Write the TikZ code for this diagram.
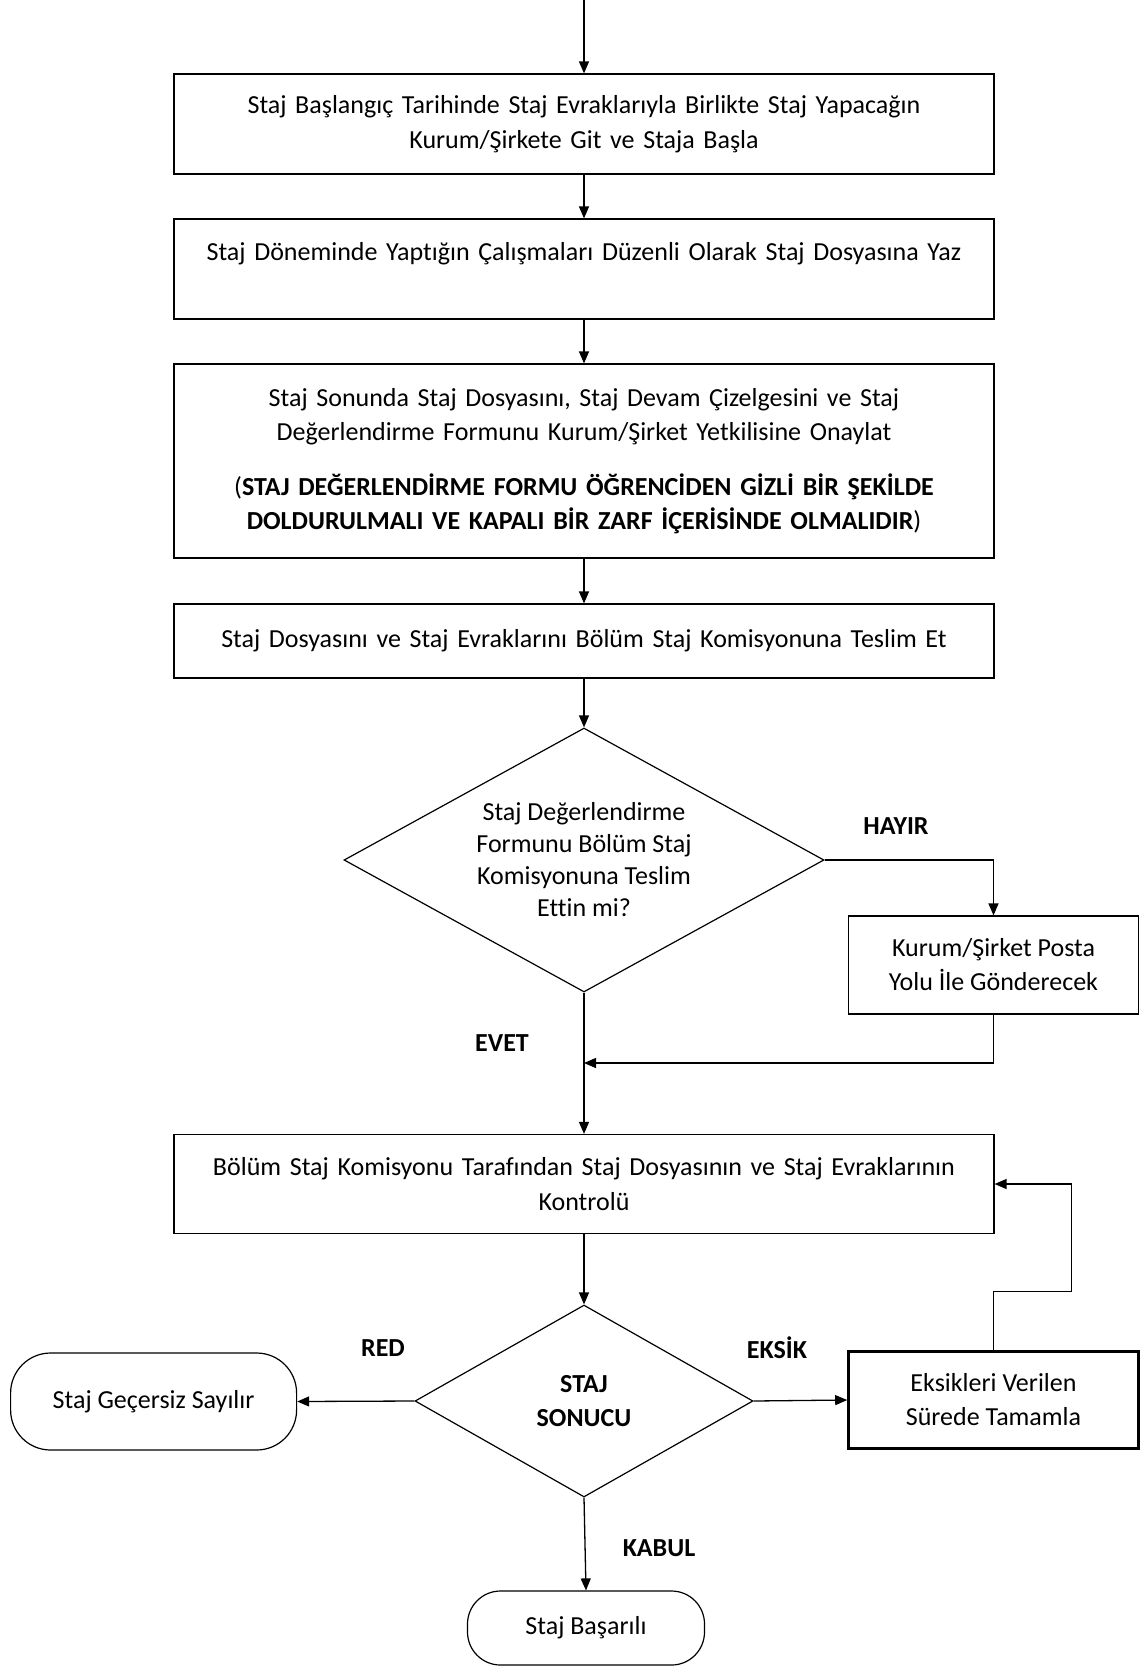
\documentclass[tikz,border=0pt]{standalone}
\usepackage{fontspec}
\setmainfont{Carlito}[Ligatures=NoCommon]
\usepackage{tikz}
\usetikzlibrary{
  shapes.geometric,
  arrows.meta,
  positioning
}
\tikzset{
    stepbox/.style={rectangle, draw=black, line width=1.2pt, text width=820pt, inner sep=0pt, align=center, font=\fontsize{26}{34.5}\selectfont},
    sidebox/.style={rectangle, draw=black, line width=1.2pt, minimum width=290pt, minimum height=97pt, inner sep=0pt, align=center, font=\fontsize{26}{34}\selectfont},
    karar/.style={diamond, draw=black, line width=1.2pt, inner sep=0pt, aspect=1.8, align=center, font=\fontsize{26}{32}\selectfont},
    terminal/.style={rectangle, draw=black, line width=1.2pt, rounded corners=40pt, inner sep=0pt, align=center, font=\fontsize{26}{34}\selectfont},
    etiket/.style={font=\fontsize{26}{30}\selectfont\bfseries},
    flow/.style={-{Triangle[length=12pt,width=10pt]}, line width=1.3pt}
}

\begin{document}
\begin{tikzpicture}[x=1pt, y=-1pt]
            \useasboundingbox (0,0) rectangle (1147,1667);
            \coordinate (giris) at (584,0);
            % main column
            \node[stepbox, minimum height=100pt] (baslangic) at (584,124) {Staj Başlangıç Tarihinde Staj Evraklarıyla Birlikte Staj Yapacağın\\Kurum/Şirkete Git ve Staja Başla};
            \node[stepbox, minimum height=100pt] (calisma) at (584,269) {Staj Döneminde Yaptığın Çalışmaları Düzenli Olarak Staj Dosyasına Yaz\\~};
            \node[stepbox, minimum height=194pt] (onay) at (584,461) {Staj Sonunda Staj Dosyasını, Staj Devam Çizelgesini ve Staj\\Değerlendirme Formunu Kurum/Şirket Yetkilisine Onaylat\\[20pt]
                (\textbf{STAJ DEĞERLENDİRME FORMU ÖĞRENCİDEN GİZLİ BİR ŞEKİLDE}\\\textbf{DOLDURULMALI VE KAPALI BİR ZARF İÇERİSİNDE OLMALIDIR})};
            \node[stepbox, minimum height=74pt] (teslim) at (584,641) {Staj Dosyasını ve Staj Evraklarını Bölüm Staj Komisyonuna Teslim Et};
            \node[karar, minimum width=480pt, minimum height=264pt] (formsoru) at (584,860) {Staj Değerlendirme\\Formunu Bölüm Staj\\Komisyonuna Teslim\\Ettin mi?};
            \node[sidebox, minimum height=98pt] (posta) at (993.5,965) {Kurum/Şirket Posta\\Yolu İle Gönderecek};
            \coordinate (birlesme) at (584,1063);
            \node[stepbox, minimum height=99pt] (kontrol) at (584,1184) {Bölüm Staj Komisyonu Tarafından Staj Dosyasının ve Staj Evraklarının\\Kontrolü};
            \node[karar, minimum width=338pt, minimum height=192pt, font=\fontsize{26}{34}\selectfont\bfseries] (sonuc) at (584,1401) {STAJ\\SONUCU};
            \node[terminal, minimum width=286pt, minimum height=97pt] (gecersiz) at (153.6,1401.5) {Staj Geçersiz Sayılır};
            \node[sidebox, line width=2.6pt] (eksik) at (993.5,1400) {Eksikleri Verilen\\Sürede Tamamla};
            \coordinate (donus) at (1071.5,1291.5);
            \node[terminal, minimum width=237pt, minimum height=74pt, rounded corners=33pt] (basarili) at (586,1628) {Staj Başarılı};
            % labels
            \node[etiket] (hayir) at (896,826) {HAYIR};
            \node[etiket] (evet) at (502,1043) {EVET};
            \node[etiket] (red) at (383,1348) {RED};
            \node[etiket] (eksiklbl) at (777,1348) {EKSİK};
            \node[etiket] (kabul) at (659,1548) {KABUL};
            % connectors
            \draw[flow] (giris) -- (baslangic);
            \draw[flow] (baslangic) -- (calisma);
            \draw[flow] (calisma) -- (onay);
            \draw[flow] (onay) -- (teslim);
            \draw[flow] (teslim) -- (formsoru);
            \draw[flow] (formsoru) -- (kontrol);
            \draw[flow] (formsoru.east) -| (posta.north);
            \draw[flow] (posta.south) |- (birlesme);
            \draw[flow] (kontrol) -- (sonuc);
            \draw[flow] (sonuc.west) -- (gecersiz.east);
            \draw[flow] (sonuc.east) -- (eksik.west);
            \draw[flow] (sonuc.south) -- (basarili.north);
            \draw[flow] (eksik.north) |- (donus) |- (kontrol.east);
        \end{tikzpicture}
\end{document}
